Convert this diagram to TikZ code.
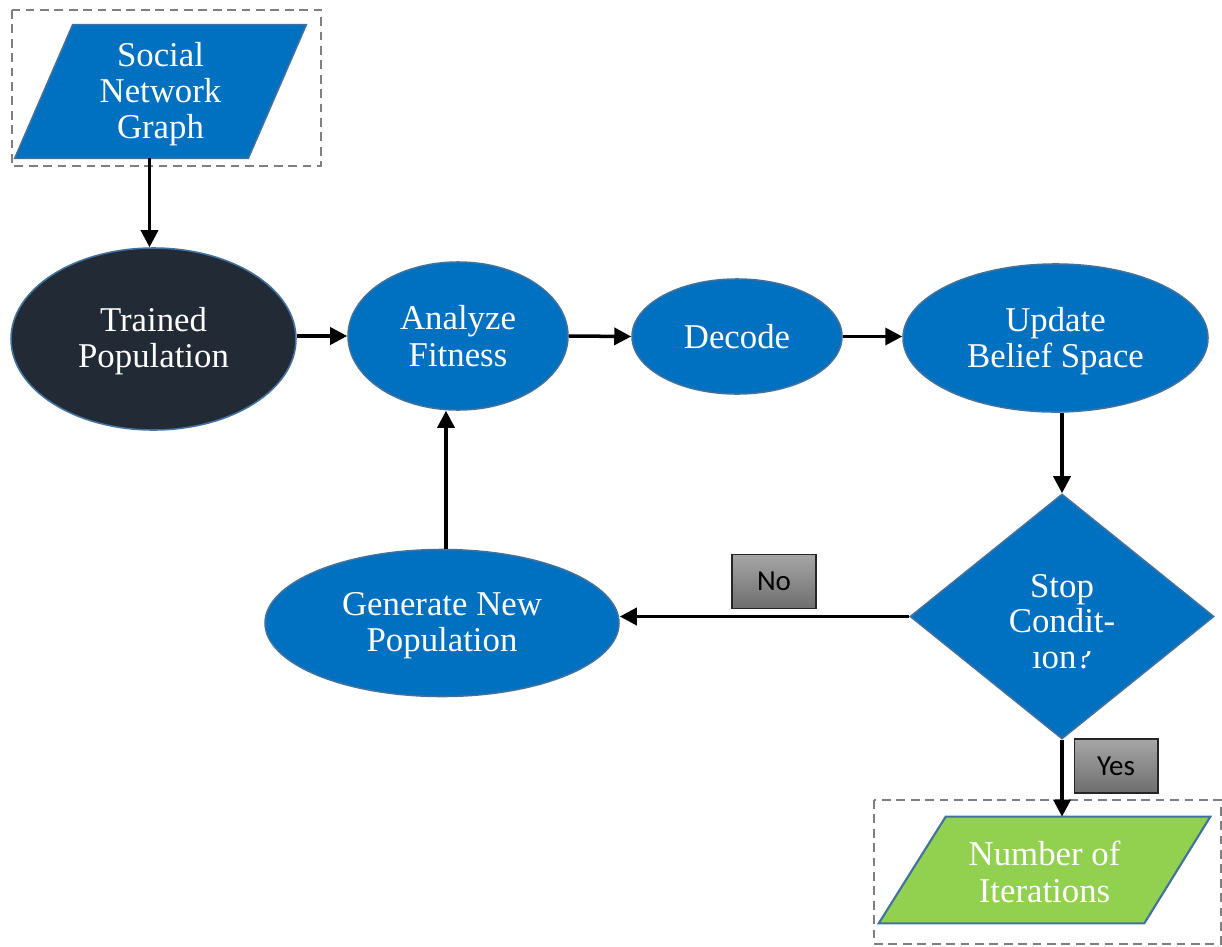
\documentclass[tikz,border=0pt]{standalone}
\usepackage{fontspec}
\setmainfont{Liberation Serif}
\newfontfamily\tagfont{Carlito}
\usetikzlibrary{shapes.geometric,arrows.meta,calc,backgrounds}
\definecolor{flowblue}{HTML}{0070C0}
\definecolor{edgeblue}{HTML}{41719C}
\definecolor{inkdark}{HTML}{222A35}
\definecolor{leafgreen}{HTML}{92D050}
\definecolor{framegray}{HTML}{7F7F7F}
\definecolor{tagtop}{HTML}{A6A6A6}
\definecolor{tagbottom}{HTML}{6E6E6E}
\definecolor{tagedge}{HTML}{262626}

\begin{document}
\begin{tikzpicture}[x=0.02cm,y=-0.02cm,
  txt/.style={text=white,font=\fontsize{19.8}{20.6}\selectfont,align=center},
  oval/.style={ellipse,draw=edgeblue,line width=0.9pt,fill=flowblue,inner sep=0pt,txt},
  iobox/.style={rectangle,inner sep=0pt,txt},
  slanted/.style={draw=edgeblue,line width=0.9pt,line join=miter},
  frame/.style={draw=framegray,line width=1.3pt,dash pattern=on 5pt off 3.2pt},
  tag/.style={rectangle,draw=tagedge,line width=0.6pt,top color=tagtop,bottom color=tagbottom,
    minimum width=1.68cm,minimum height=1.08cm,inner sep=0pt,
    font=\tagfont\fontsize{16.5}{18}\selectfont,text=black},
  flow/.style={-{Triangle[length=0.34cm,width=0.34cm]},line width=2pt,black}
]
\useasboundingbox (0,0) rectangle (1222,946);

% input / output boxes (parallelograms are drawn behind their text)
\node[iobox,minimum width=5.82cm,minimum height=2.66cm] (sng) at (160.5,91.5) {};
\node[txt] (sngtext) at (160.5,94) {Social\\Network\\Graph};
\node[iobox,minimum width=6.62cm,minimum height=2.12cm] (num) at (1044.5,870) {};
\node[txt] (numtext) at (1044.5,872) {Number of\\Iterations};

% process steps
\node[oval,fill=inkdark,minimum width=5.7cm,minimum height=3.64cm] (trained) at (153.5,339) {};
\node[txt] (trainedtext) at (153.5,341.5) {Trained\\Population};
\node[oval,minimum width=4.4cm,minimum height=2.96cm] (analyze) at (458,336) {Analyze\\Fitness};
\node[oval,minimum width=4.2cm,minimum height=2.3cm] (decode) at (737,336.5) {Decode};
\node[oval,minimum width=6.1cm,minimum height=2.96cm] (update) at (1055.5,338) {};
\node[txt] (updatetext) at (1055.5,341) {Update\\Belief Space};
\node[oval,minimum width=7.08cm,minimum height=2.94cm] (gen) at (442,623) {};
\node[txt] (gentext) at (442,626) {Generate New\\Population};

% decision
\node[diamond,draw=edgeblue,line width=0.9pt,fill=flowblue,inner sep=0pt,
      minimum width=6.08cm,minimum height=4.9cm] (stop) at (1062,616.5) {};
\node[txt,anchor=base] (stopa) at (1062,597) {Stop};
\node[txt,anchor=base] (stopb) at (1062,632) {Condit-};
\begin{scope}
  \clip (900,651) rectangle (1220,700);
  \node[txt,anchor=base] (stopc) at (1062,668) {ion?};
\end{scope}

% branch labels
\node[tag] (no) at (774,581.5) {No};
\node[tag] (yes) at (1116,766) {Yes};

\begin{scope}[on background layer]
  \draw[frame] (12,10) rectangle (321,166);
  \draw[frame] (874,800) rectangle (1221,944);
  \draw[slanted,fill=flowblue] ($(sng.north west)+(58,0)$) -- (sng.north east)
       -- ($(sng.south east)-(58,0)$) -- (sng.south west) -- cycle;
  \draw[slanted,fill=leafgreen,line width=1.2pt] ($(num.north west)+(67,0)$) -- (num.north east)
       -- ($(num.south east)-(66,0)$) -- (num.south west) -- cycle;
\end{scope}

% connectors
\draw[flow] ([xshift=-0.08cm]sng.south -| trained.north) -- ([xshift=-0.08cm]trained.north);
\draw[flow] (trained.east |- analyze.west) -- (analyze.west);
\draw[flow] (analyze.east) -- (decode.west);
\draw[flow] (decode.east) -- (decode.east -| update.west);
\draw[flow] (stop.north |- update.south) -- (stop.north);
\draw[flow] (stop.west) -- (stop.west -| gen.east);
\draw[flow] ([xshift=0.08cm]gen.north) -- ([xshift=0.08cm]gen.north |- analyze.south);
\draw[flow] (stop.south) -- (stop.south |- num.north);
\end{tikzpicture}
\end{document}
